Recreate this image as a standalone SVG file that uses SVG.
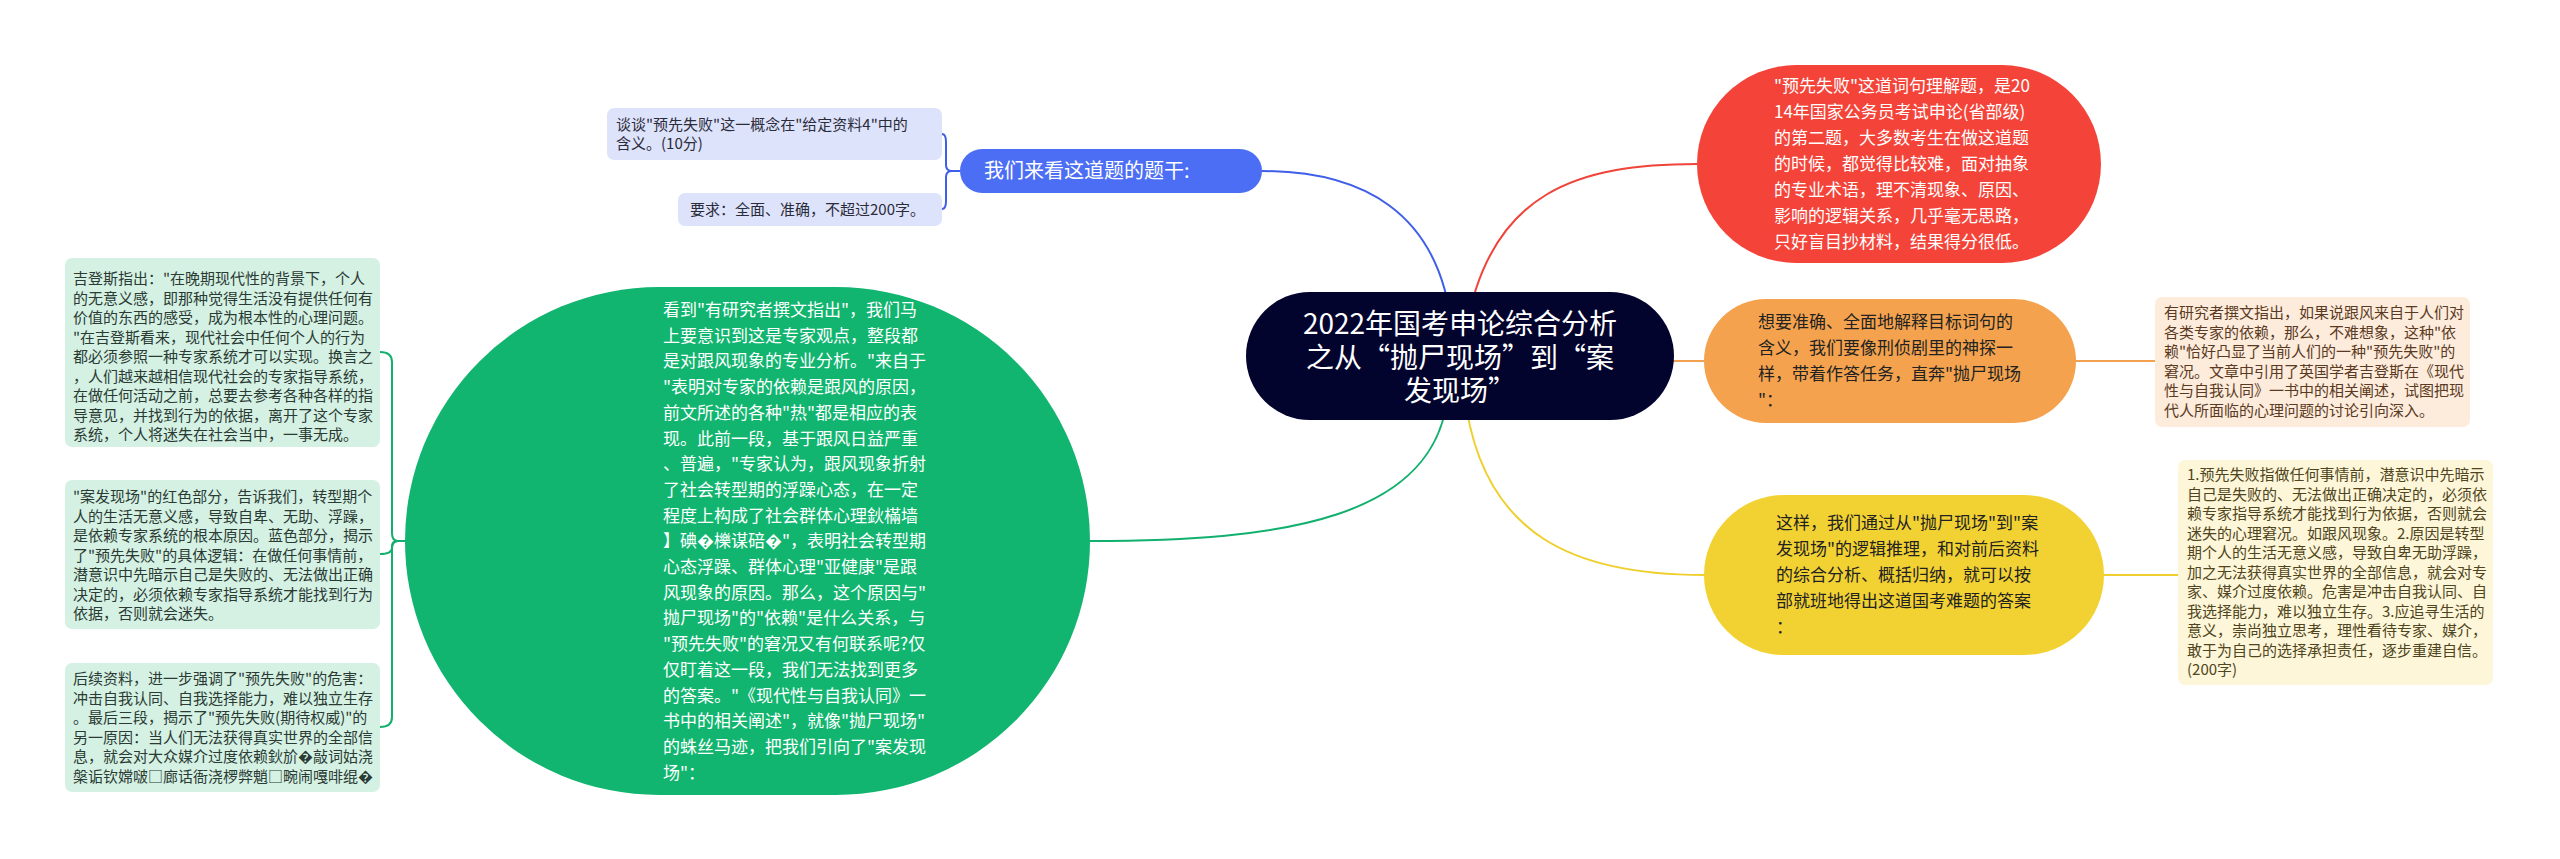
<svg xmlns="http://www.w3.org/2000/svg" width="2560" height="859" viewBox="0 0 2560 859">
<style>
text{font-family:"Noto Sans CJK SC","Microsoft YaHei",sans-serif}
.root{font-size:28px;fill:#ffffff}
.l1w{font-size:17px;fill:#ffffff}
.l1d{font-size:17px;fill:#222222}
.l2{font-size:15px}
.bl{font-size:20px;fill:#ffffff}
.c{fill:none;stroke-width:2}
</style>
<rect width="2560" height="859" fill="#ffffff"/>
<g id="connectors">
<path class="c" stroke="#3f5fe8" d="M1452,330 C1440,210 1360,171 1262,171"/>
<path class="c" stroke="#f0443a" d="M1466,330 C1490,190 1580,164 1697,164"/>
<path class="c" stroke="#f2a24f" d="M1660,361 H1704"/>
<path class="c" stroke="#f2a24f" d="M2076,361 H2155"/>
<path class="c" stroke="#efcf2e" d="M1464,390 C1480,540 1580,575 1704,575"/>
<path class="c" stroke="#efcf2e" d="M2104,575 H2178"/>
<path class="c" stroke="#12b06e" d="M1448,390 C1440,520 1280,541 1090,541"/>
<path class="c" stroke="#3f5fe8" d="M960,171 H952 Q946,171 946,165 V142 Q946,134 942,134"/>
<path class="c" stroke="#3f5fe8" d="M960,171 H952 Q946,171 946,177 V201 Q946,209 942,209"/>
<path class="c" stroke="#12b06e" d="M405,541 H398 Q392,541 392,533 V362 Q392,352 380,352"/>
<path class="c" stroke="#12b06e" d="M405,541 H398 Q392,541 392,546 V548 Q392,554 380,554"/>
<path class="c" stroke="#12b06e" d="M405,541 H398 Q392,541 392,549 V717 Q392,727 380,727"/>
</g>
<g id="root">
<rect x="1246" y="292" width="428" height="128" rx="64" fill="#03042e"/>
<text class="root" text-anchor="middle"><tspan x="1460" y="334">2022年国考申论综合分析</tspan><tspan x="1460" y="368">之从“抛尸现场”到“案</tspan><tspan x="1460" y="401">发现场”</tspan></text>
</g>
<g id="n-blue">
<rect x="960" y="149" width="302" height="44" rx="22" fill="#4c6ef5"/>
<text class="bl" x="984" y="178">我们来看这道题的题干:</text>
</g>
<g id="n-blue-1">
<rect x="607" y="108" width="335" height="52" rx="7" fill="#dde3fb"/>
<text class="l2" fill="#2b2b3a"><tspan x="616" y="130">谈谈"预先失败"这一概念在"给定资料4"中的</tspan><tspan x="616" y="149">含义。(10分)</tspan></text>
</g>
<g id="n-blue-2">
<rect x="678" y="193" width="264" height="33" rx="7" fill="#dde3fb"/>
<text class="l2" fill="#2b2b3a" x="690" y="215">要求：全面、准确，不超过200字。</text>
</g>
<g id="n-red">
<rect x="1697" y="65" width="404" height="198" rx="99" fill="#f4443a"/>
<text class="l1w"><tspan x="1774" y="92">"预先失败"这道词句理解题，是20</tspan><tspan x="1774" y="118">14年国家公务员考试申论(省部级)</tspan><tspan x="1774" y="144">的第二题，大多数考生在做这道题</tspan><tspan x="1774" y="170">的时候，都觉得比较难，面对抽象</tspan><tspan x="1774" y="196">的专业术语，理不清现象、原因、</tspan><tspan x="1774" y="222">影响的逻辑关系，几乎毫无思路，</tspan><tspan x="1774" y="248">只好盲目抄材料，结果得分很低。</tspan></text>
</g>
<g id="n-orange">
<rect x="1704" y="299" width="372" height="124" rx="62" fill="#f4a24e"/>
<text class="l1d"><tspan x="1758" y="328">想要准确、全面地解释目标词句的</tspan><tspan x="1758" y="354">含义，我们要像刑侦剧里的神探一</tspan><tspan x="1758" y="380">样，带着作答任务，直奔"抛尸现场</tspan><tspan x="1758" y="406">"：</tspan></text>
</g>
<g id="n-orange-1">
<rect x="2155" y="297" width="315" height="130" rx="7" fill="#fdebdc"/>
<text class="l2" fill="#5a3a22"><tspan x="2164" y="318">有研究者撰文指出，如果说跟风来自于人们对</tspan><tspan x="2164" y="337.5">各类专家的依赖，那么，不难想象，这种"依</tspan><tspan x="2164" y="357">赖"恰好凸显了当前人们的一种"预先失败"的</tspan><tspan x="2164" y="376.5">窘况。文章中引用了英国学者吉登斯在《现代</tspan><tspan x="2164" y="396">性与自我认同》一书中的相关阐述，试图把现</tspan><tspan x="2164" y="415.5">代人所面临的心理问题的讨论引向深入。</tspan></text>
</g>
<g id="n-yellow">
<rect x="1704" y="495" width="400" height="160" rx="80" fill="#f2d232"/>
<text class="l1d"><tspan x="1776" y="529">这样，我们通过从"抛尸现场"到"案</tspan><tspan x="1776" y="555">发现场"的逻辑推理，和对前后资料</tspan><tspan x="1776" y="581">的综合分析、概括归纳，就可以按</tspan><tspan x="1776" y="607">部就班地得出这道国考难题的答案</tspan><tspan x="1776" y="633">：</tspan></text>
</g>
<g id="n-yellow-1">
<rect x="2178" y="460" width="315" height="225" rx="7" fill="#fdf6d8"/>
<text class="l2" fill="#4f4520"><tspan x="2187" y="480">1.预先失败指做任何事情前，潜意识中先暗示</tspan><tspan x="2187" y="499.5">自己是失败的、无法做出正确决定的，必须依</tspan><tspan x="2187" y="519">赖专家指导系统才能找到行为依据，否则就会</tspan><tspan x="2187" y="538.5">迷失的心理窘况。如跟风现象。2.原因是转型</tspan><tspan x="2187" y="558">期个人的生活无意义感，导致自卑无助浮躁，</tspan><tspan x="2187" y="577.5">加之无法获得真实世界的全部信息，就会对专</tspan><tspan x="2187" y="597">家、媒介过度依赖。危害是冲击自我认同、自</tspan><tspan x="2187" y="616.5">我选择能力，难以独立生存。3.应追寻生活的</tspan><tspan x="2187" y="636">意义，崇尚独立思考，理性看待专家、媒介，</tspan><tspan x="2187" y="655.5">敢于为自己的选择承担责任，逐步重建自信。</tspan><tspan x="2187" y="675">(200字)</tspan></text>
</g>
<g id="n-green">
<rect x="405" y="287" width="685" height="508" rx="254" fill="#11b56f"/>
<text class="l1w"><tspan x="663" y="316">看到"有研究者撰文指出"，我们马</tspan><tspan x="663" y="341.7">上要意识到这是专家观点，整段都</tspan><tspan x="663" y="367.4">是对跟风现象的专业分析。"来自于</tspan><tspan x="663" y="393.1">"表明对专家的依赖是跟风的原因，</tspan><tspan x="663" y="418.8">前文所述的各种"热"都是相应的表</tspan><tspan x="663" y="444.5">现。此前一段，基于跟风日益严重</tspan><tspan x="663" y="470.2">、普遍，"专家认为，跟风现象折射</tspan><tspan x="663" y="495.9">了社会转型期的浮躁心态，在一定</tspan><tspan x="663" y="521.6">程度上构成了社会群体心理鈥樠墙</tspan><tspan x="663" y="547.3">】碘�櫟谋碚�"，表明社会转型期</tspan><tspan x="663" y="573">心态浮躁、群体心理"亚健康"是跟</tspan><tspan x="663" y="598.7">风现象的原因。那么，这个原因与"</tspan><tspan x="663" y="624.4">抛尸现场"的"依赖"是什么关系，与</tspan><tspan x="663" y="650.1">"预先失败"的窘况又有何联系呢?仅</tspan><tspan x="663" y="675.8">仅盯着这一段，我们无法找到更多</tspan><tspan x="663" y="701.5">的答案。"《现代性与自我认同》一</tspan><tspan x="663" y="727.2">书中的相关阐述"，就像"抛尸现场"</tspan><tspan x="663" y="752.9">的蛛丝马迹，把我们引向了"案发现</tspan><tspan x="663" y="778.6">场"：</tspan></text>
</g>
<g id="n-green-1">
<rect x="65" y="258" width="315" height="189" rx="7" fill="#d4f1e4"/>
<text class="l2" fill="#2b3a33"><tspan x="73" y="284">吉登斯指出："在晚期现代性的背景下，个人</tspan><tspan x="73" y="303.5">的无意义感，即那种觉得生活没有提供任何有</tspan><tspan x="73" y="323">价值的东西的感受，成为根本性的心理问题。</tspan><tspan x="73" y="342.5">"在吉登斯看来，现代社会中任何个人的行为</tspan><tspan x="73" y="362">都必须参照一种专家系统才可以实现。换言之</tspan><tspan x="73" y="381.5">，人们越来越相信现代社会的专家指导系统，</tspan><tspan x="73" y="401">在做任何活动之前，总要去参考各种各样的指</tspan><tspan x="73" y="420.5">导意见，并找到行为的依据，离开了这个专家</tspan><tspan x="73" y="440">系统，个人将迷失在社会当中，一事无成。</tspan></text>
</g>
<g id="n-green-2">
<rect x="65" y="480" width="315" height="149" rx="7" fill="#d4f1e4"/>
<text class="l2" fill="#2b3a33"><tspan x="73" y="502">"案发现场"的红色部分，告诉我们，转型期个</tspan><tspan x="73" y="521.5">人的生活无意义感，导致自卑、无助、浮躁，</tspan><tspan x="73" y="541">是依赖专家系统的根本原因。蓝色部分，揭示</tspan><tspan x="73" y="560.5">了"预先失败"的具体逻辑：在做任何事情前，</tspan><tspan x="73" y="580">潜意识中先暗示自己是失败的、无法做出正确</tspan><tspan x="73" y="599.5">决定的，必须依赖专家指导系统才能找到行为</tspan><tspan x="73" y="619">依据，否则就会迷失。</tspan></text>
</g>
<g id="n-green-3">
<rect x="65" y="663" width="315" height="129" rx="7" fill="#d4f1e4"/>
<text class="l2" fill="#2b3a33"><tspan x="73" y="684">后续资料，进一步强调了"预先失败"的危害：</tspan><tspan x="73" y="703.5">冲击自我认同、自我选择能力，难以独立生存</tspan><tspan x="73" y="723">。最后三段，揭示了"预先失败(期待权威)"的</tspan><tspan x="73" y="742.5">另一原因：当人们无法获得真实世界的全部信</tspan><tspan x="73" y="762">息，就会对大众媒介过度依赖鈥斺�敲词姑浇</tspan><tspan x="73" y="781.5">槃诟钦嫦啵□廊话衙浇椤弊魈□畹闹嘎啡绲�</tspan></text>
</g>
</svg>
